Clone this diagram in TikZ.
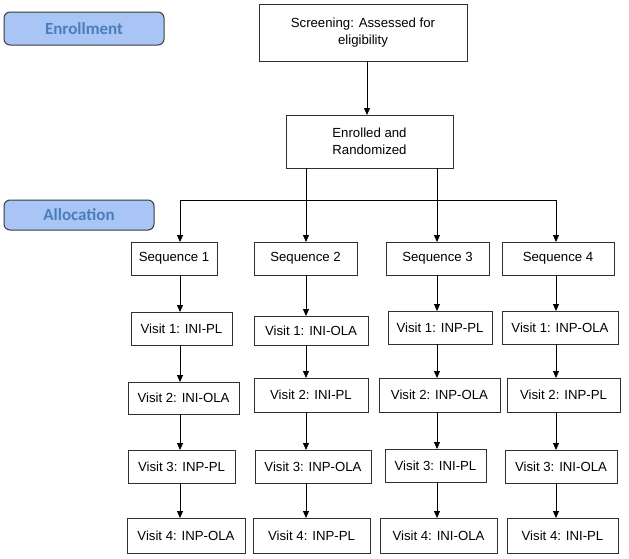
\documentclass[tikz,border=0pt]{standalone}
\usepackage{fontspec}
\setmainfont{Liberation Sans}
\newfontfamily\lblfont{Carlito}
\usetikzlibrary{arrows.meta}
\definecolor{lblfill}{HTML}{A9C5F5}
\definecolor{lbltext}{HTML}{4A7EBB}
\definecolor{lbldraw}{HTML}{3A3A3A}
\definecolor{boxdraw}{HTML}{303030}
\tikzset{
  box/.style={draw=boxdraw,line width=1pt,fill=white,inner sep=0pt,outer sep=0pt,align=center,
    font=\fontsize{13.2}{16.5}\selectfont},
  lbl/.style={draw=lbldraw,line width=1pt,fill=lblfill,rounded corners=6pt,inner sep=0pt,outer sep=0pt,
    text=lbltext,font=\lblfont\bfseries\fontsize{17}{20}\selectfont},
  arr/.style={draw=black,line width=0.9pt,-{Triangle[length=7pt,width=6pt]}},
  ln/.style={draw=black,line width=0.9pt}
}
\newcommand\mybox[7][box]{%
  \pgfmathsetmacro\bw{#4-#3}\pgfmathsetmacro\bh{#6-#5}%
  \node[#1,minimum width=\bw pt,minimum height=\bh pt] (#2) at ({(#3+#4)/2},{(#5+#6)/2}) {#7};}
\begin{document}
\begin{tikzpicture}[x=1pt,y=-1pt]
\useasboundingbox (0,0) rectangle (629,558);
% labels
\mybox[lbl]{enrl}{4}{164}{12}{45}{Enrollment}
\mybox[lbl]{allo}{4}{154}{200}{230}{Allocation}
% top boxes
\mybox{scr}{259}{467}{4}{61}{Screening: Assessed for\\eligibility}
\mybox{enr}{286}{453}{115}{168}{Enrolled and\\Randomized}
% sequences
\mybox{sa}{131}{217}{242}{275}{Sequence 1}
\mybox{sb}{254}{357}{242}{275}{Sequence 2}
\mybox{sc}{386}{489}{242}{275}{Sequence 3}
\mybox{sd}{502}{614}{242}{275}{Sequence 4}
% visit 1
\mybox{a1}{131}{232}{312}{345}{Visit 1: INI-PL}
\mybox{b1}{254}{368}{316}{345}{Visit 1: INI-OLA}
\mybox{c1}{388}{492}{311}{344}{Visit 1: INP-PL}
\mybox{d1}{502}{618}{311}{344}{Visit 1: INP-OLA}
% visit 2
\mybox{a2}{128}{239}{382}{414}{Visit 2: INI-OLA}
\mybox{b2}{254}{368}{378}{412}{Visit 2: INI-PL}
\mybox{c2}{379}{500}{378}{412}{Visit 2: INP-OLA}
\mybox{d2}{507}{620}{378}{412}{Visit 2: INP-PL}
% visit 3
\mybox{a3}{128}{235}{450}{483}{Visit 3: INP-PL}
\mybox{b3}{255}{371}{450}{483}{Visit 3: INP-OLA}
\mybox{c3}{385}{486}{449}{482}{Visit 3: INI-PL}
\mybox{d3}{505}{617}{450}{483}{Visit 3: INI-OLA}
% visit 4
\mybox{a4}{127}{245}{518}{553}{Visit 4: INP-OLA}
\mybox{b4}{253}{370}{518}{553}{Visit 4: INP-PL}
\mybox{c4}{380}{497}{518}{553}{Visit 4: INI-OLA}
\mybox{d4}{507}{618}{518}{553}{Visit 4: INI-PL}
% column coordinates
\coordinate (ka) at (180,200);
\coordinate (kb) at (306,200);
\coordinate (kc) at (437,200);
\coordinate (kd) at (556,200);
\coordinate (ks) at (367,100);
% connectors
\draw[arr] (scr.south -| ks) -- (enr.north -| ks);
\draw[ln] (ka) -- (kd);
\draw[arr] (enr.south -| kb) -- (sb.north -| kb);
\draw[arr] (enr.south -| kc) -- (sc.north -| kc);
\draw[arr] (ka) -- (sa.north -| ka);
\draw[arr] (kd) -- (sd.north -| kd);
\foreach \c/\k in {a/ka,b/kb,c/kc,d/kd}{
  \draw[arr] (s\c.south -| \k) -- (\c1.north -| \k);
  \draw[arr] (\c1.south -| \k) -- (\c2.north -| \k);
  \draw[arr] (\c2.south -| \k) -- (\c3.north -| \k);
  \draw[arr] (\c3.south -| \k) -- (\c4.north -| \k);
}
\end{tikzpicture}
\end{document}
